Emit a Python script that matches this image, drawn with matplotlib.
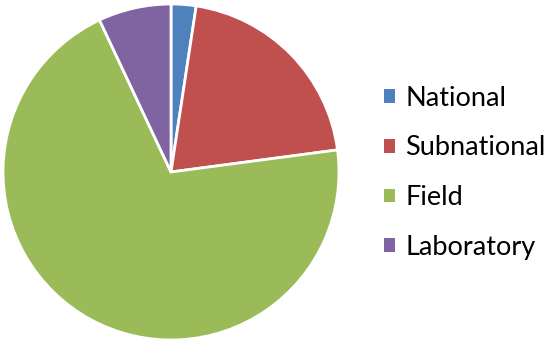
import matplotlib
matplotlib.use("Agg")
import matplotlib.pyplot as plt

categories = ["National", "Subnational", "Field", "Laboratory"]
values = [2.4, 20.5, 70.1, 7.0]
colors = ["#4F81BD", "#C0504D", "#9BBB59", "#8064A2"]

fig = plt.figure(figsize=(5.51, 3.44), dpi=100)
ax = fig.add_axes([3/551, 4/344, 336/551, 336/344])
wedges, _ = ax.pie(values, colors=colors, startangle=90, counterclock=False,
                   wedgeprops=dict(edgecolor="white", linewidth=2))
ax.set_xlim(-1.0, 1.0)
ax.set_ylim(-1.0, 1.0)
ax.set_aspect("equal")

leg = fig.legend(wedges, categories, loc="upper left", bbox_to_anchor=(373/551, 1 - 75/344),
                 frameon=False, prop={"family": "Lato", "size": 19.5},
                 handlelength=0.4, handleheight=0.4, handletextpad=0.4,
                 labelspacing=0.91, borderaxespad=0)
for p in leg.get_patches():
    p.set_edgecolor("none")
fig.savefig("out.png", dpi=100)
